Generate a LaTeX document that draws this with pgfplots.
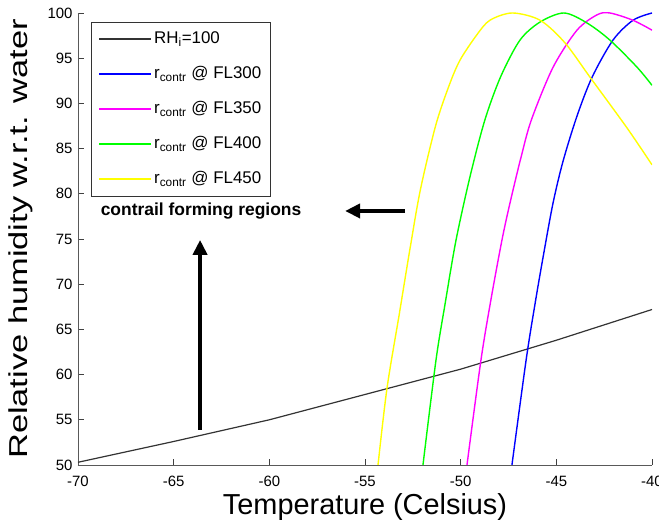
\documentclass[border=0pt]{standalone}
\usepackage{pgfplots}
\pgfplotsset{compat=1.18}
\usepackage{fontspec}
\setmainfont{Liberation Sans}
\usepackage{graphicx}
\usetikzlibrary{arrows.meta}
\definecolor{lineblue}{RGB}{0,0,255}
\definecolor{linemag}{RGB}{255,0,255}
\definecolor{linegreen}{RGB}{0,255,0}
\definecolor{lineyel}{RGB}{255,255,0}
\begin{document}
\begin{tikzpicture}
\begin{axis}[
 name=ax,
 scale only axis, width=574bp, height=452bp,
 xmin=-70, xmax=-40, ymin=50, ymax=100,
 xtick={-70,-65,...,-40}, ytick={50,55,...,100},
 axis x line*=bottom, axis y line*=left,
 xtick pos=left, ytick pos=left,
 axis line style={black!65, line width=0.9bp},
 tick style={black!75, line width=0.9bp},
 tick align=inside, major tick length=6bp,
 ticklabel style={font=\fontsize{15}{18}\selectfont},
 xticklabel style={yshift=-8bp},
 yticklabel style={xshift=-2bp},
 /pgf/number format/assume math mode=true,
 xlabel={Temperature (Celsius)},
 ylabel={\scalebox{1.33}[1]{\fontsize{26}{30}\selectfont Relative humidity w.r.t. water}},
 xlabel style={font=\fontsize{29}{34}\selectfont, at={(axis description cs:0.5,-0.093)}, anchor=center},
 ylabel style={at={(axis description cs:-0.0993,0.5)}, anchor=center},
 legend image code/.code={\draw[#1, line width=1.7bp] (0bp,0.3bp) -- (52bp,0.3bp);},
 legend cell align=left,
 legend style={at={(axis description cs:0.0226,0.980)}, anchor=north west,
   draw=black!80, line width=1bp, inner sep=7bp, row sep=15bp,
   font=\fontsize{17}{20}\selectfont,
   nodes={inner sep=2bp, text height=12bp, text depth=4bp}},
]
\addplot[black!80, line width=1.2bp] coordinates {
(-70,50.3) (-65,52.6) (-60,55.0) (-55,57.8) (-50,60.6) (-45,63.8) (-40,67.2)};
\addlegendentry{RH\textsubscript{i}=100}
\addplot[color=lineblue, line width=1.4bp, smooth] coordinates {
(-47.32,50) (-46.58,61.6) (-46.1,68) (-45.65,73.5) (-45.17,79.0) (-44.65,83.6)
(-43.92,88.6) (-43.13,92.9) (-42.04,97.0) (-40.99,99.2) (-40,100)};
\addlegendentry{r\textsubscript{contr} @ FL300\hspace{8bp}}
\addplot[color=linemag, line width=1.4bp, smooth] coordinates {
(-49.67,50) (-48.94,61.6) (-48.4,68.5) (-47.84,74.9) (-47.42,79.0) (-46.85,84.0)
(-46.3,88.2) (-45.17,94.0) (-43.92,98.1) (-42.87,99.8) (-42.2,100) (-41.0,99.2) (-40,98.1)};
\addlegendentry{r\textsubscript{contr} @ FL350}
\addplot[color=linegreen, line width=1.4bp, smooth] coordinates {
(-51.97,50) (-51.29,61.6) (-50.8,68) (-50.24,74.9) (-49.5,82) (-48.73,88.2)
(-47.9,93) (-46.9,97.0) (-45.85,99.0) (-44.6,100) (-43.4,98.9) (-42.2,97.0) (-40.78,94.0) (-40,92.0)};
\addlegendentry{r\textsubscript{contr} @ FL400}
\addplot[color=lineyel, line width=1.4bp, smooth] coordinates {
(-54.32,50) (-53.85,58.5) (-53.2,66.8) (-52.65,73.9) (-52.1,80.5) (-51.3,87.6)
(-50.6,92) (-50.03,94.8) (-49.15,97.6) (-48.47,99.2) (-47.3,100) (-45.85,99.2)
(-44.55,96.7) (-43.24,92.9) (-41.31,87.3) (-40,83.2)};
\addlegendentry{r\textsubscript{contr} @ FL450}
\draw[line width=4.5bp, -{Triangle[length=15bp, width=14bp]}] (axis cs:-52.9,78.1) -- (axis cs:-56.04,78.1);
\draw[line width=4.5bp, -{Triangle[length=15bp, width=14bp]}] (axis cs:-63.62,53.9) -- (axis cs:-63.62,74.9);
\node[font=\bfseries\fontsize{17.5}{20}\selectfont] at (axis cs:-63.57,78.1) {contrail forming regions};
\end{axis}
\pgfresetboundingbox
\path[use as bounding box] ([shift={(-78bp,-62bp)}]ax.south west) rectangle ([shift={(7bp,13bp)}]ax.north east);
\end{tikzpicture}
\end{document}
